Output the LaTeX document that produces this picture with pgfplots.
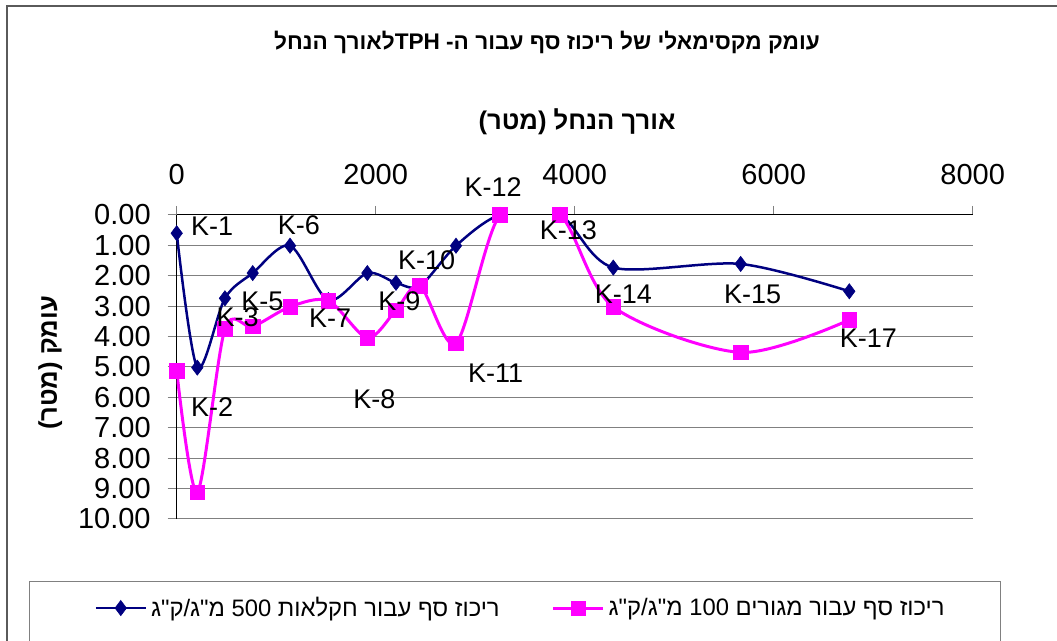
\documentclass[border=0pt]{standalone}
\usepackage{pgfplots}
\pgfplotsset{compat=1.18}
\usepackage{fontspec}
\setmainfont{Liberation Sans}
\newfontfamily\hebfont[Script=Hebrew]{Liberation Sans}
\TeXXeTstate=1

\definecolor{navyline}{RGB}{0,0,128}
\definecolor{magline}{RGB}{255,0,255}
\definecolor{framegray}{RGB}{90,90,90}
\definecolor{gridgray}{RGB}{128,128,128}

\begin{document}
\begin{tikzpicture}[x=0.5pt, y=-0.5pt]
    \useasboundingbox (0,0) rectangle (1057,641);
    \clip (0,0) rectangle (1057,641);
    % chart frame (cut at right and bottom)
    \draw[framegray, line width=0.6pt] (7,700) -- (7,6) -- (1100,6);
    % legend frame
    \draw[gridgray, line width=0.5pt] (29,700) -- (29,582) -- (1000,582) -- (1000,700);

    \node[font=\bfseries\fontsize{11.3}{13}\selectfont] at (547,42)
        {\hebfont\beginR עומק מקסימאלי של ריכוז סף עבור ה- \beginL TPH\endL{}לאורך הנחל\endR};

    \coordinate (plotNW) at (176.7,215);
    \begin{axis}[
        at={(plotNW)}, anchor=north west,
        scale only axis,
        width=398pt, height=152pt,
        xmin=0, xmax=8000,
        ymin=0, ymax=10,
        y dir=reverse,
        axis x line*=top,
        axis y line*=left,
        axis line style={black, line width=0.5pt},
        xtick={0,2000,4000,6000,8000},
        ytick={0,1,...,10},
        tick align=outside,
        major tick length=4.5pt,
        tick style={gridgray, line width=0.5pt},
        ymajorgrids=true,
        grid style={gridgray, line width=0.5pt},
        scaled x ticks=false,
        xticklabel style={/pgf/number format/1000 sep={}, yshift=7pt},
        yticklabel style={/pgf/number format/fixed, /pgf/number format/fixed zerofill,
            /pgf/number format/precision=2, xshift=-5pt},
        /pgf/number format/assume math mode=true,
        ticklabel style={font=\fontsize{14.5}{16}\selectfont},
        xlabel={\hebfont\beginR אורך הנחל (מטר)\endR},
        ylabel={\hebfont\beginR עומק (מטר)\endR},
        label style={font=\bfseries\fontsize{12.8}{14}\selectfont},
        xlabel style={at={(axis description cs:0.503,1.306)}, anchor=center},
        ylabel style={at={(axis description cs:-0.159,0.513)}, anchor=center},
        clip mode=individual,
        legend columns=2,
        legend style={draw=none, fill=none, font=\fontsize{11.9}{13}\selectfont,
            at={(axis description cs:-0.1113,-0.293)}, anchor=west,
            /tikz/every even column/.append style={column sep=24pt}},
        legend image code/.code={
            \draw[mark repeat=2, mark phase=2] plot coordinates {(0pt,0pt) (12.5pt,0pt) (25pt,0pt)};
        },
    ]

    \addplot[navyline, line width=1.25pt, smooth, mark=diamond*,
        mark size=3.8pt, mark options={solid, fill=navyline, line width=0.3pt}] coordinates {
        (0,0.60) (207,5.02) (485,2.74) (764,1.91) (1139,1.01)
        (1524,2.80) (1916,1.91) (2204,2.23) (2445,2.33) (2807,1.01)
        (3249,0.00) (3852,0.00) (4388,1.73) (5668,1.61) (6760,2.51)
    };
    \addlegendentry{\hebfont\beginR ריכוז סף עבור חקלאות 500 מ"ג/ק"ג\endR}

    \addplot[magline, line width=1.5pt, smooth, mark=square*,
        mark size=3.6pt, mark options={solid, fill=magline, line width=0.3pt}] coordinates {
        (0,5.12) (207,9.12) (485,3.75) (764,3.67) (1139,3.02)
        (1524,2.82) (1916,4.04) (2204,3.13) (2445,2.33) (2807,4.22)
        (3249,0.00) (3852,0.00) (4388,3.02) (5668,4.52) (6760,3.45)
    };
    \addlegendentry{\hebfont\beginR ריכוז סף עבור מגורים 100 מ"ג/ק"ג\endR}

    \begin{scope}[font=\fontsize{13.5}{15}\selectfont]
        \node at (axis cs:355,0.36) {K-1};
        \node at (axis cs:355,6.32) {K-2};
        \node at (axis cs:613,3.37) {K-3};
        \node at (axis cs:860,2.85) {K-5};
        \node at (axis cs:1229,0.33) {K-6};
        \node at (axis cs:1541,3.40) {K-7};
        \node at (axis cs:1986,6.05) {K-8};
        \node at (axis cs:2237,2.85) {K-9};
        \node at (axis cs:2513,1.48) {K-10};
        \node at (axis cs:3206,5.19) {K-11};
        \node at (axis cs:3180,-0.92) {K-12};
        \node at (axis cs:3936,0.49) {K-13};
        \node at (axis cs:4489,2.61) {K-14};
        \node at (axis cs:5789,2.61) {K-15};
        \node at (axis cs:6951,4.06) {K-17};
    \end{scope}
    \end{axis}
\end{tikzpicture}
\end{document}
